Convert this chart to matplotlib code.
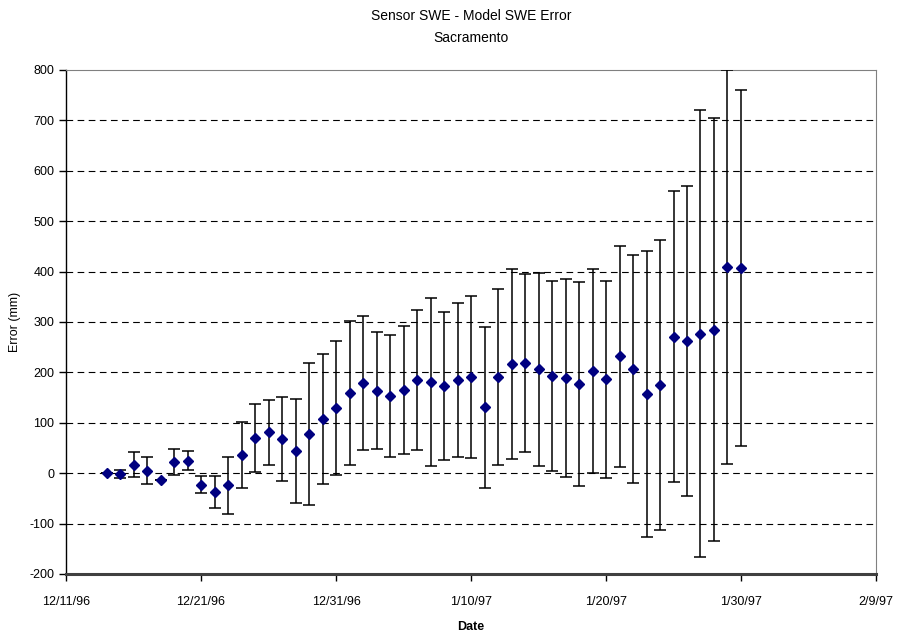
#import the libraries

import numpy as np
import pandas as pd
import matplotlib
matplotlib.use('Agg')
import matplotlib.pyplot as plt

plt.rcParams['font.family'] = ['Liberation Sans', 'DejaVu Sans']
plt.rcParams['axes.unicode_minus'] = False

# daily readings, 12/14/96 to 1/30/97
dates = pd.date_range('1996-12-14', '1997-01-30', freq='D')

swe_error = [0, -1, 17, 5, -13, 22, 25, -23, -38, -24, 36, 70, 81, 68, 44, 77,
             108, 129, 159, 178, 164, 154, 166, 185, 181, 173, 185, 191, 131, 191,
             217, 219, 206, 193, 189, 177, 203, 186, 232, 206, 157, 175, 271, 262,
             277, 285, 409, 407]

err_bar = [0, 8, 25, 27, 0, 25, 19, 17, 32, 57, 65, 68, 65, 84, 104, 141,
           129, 133, 142, 133, 116, 121, 127, 139, 167, 147, 153, 160, 160, 175,
           189, 177, 191, 189, 196, 202, 203, 195, 219, 226, 284, 288, 289, 308,
           443, 419, 390, 354]

x_start = pd.Timestamp('1996-12-11')
x_end = pd.Timestamp('1997-02-09')
y_ticks = np.arange(-200, 801, 100)

fig = plt.figure(figsize=(8.98, 6.35), dpi=100)
ax = fig.add_axes([0.0735, 0.0961, 0.902, 0.7937])

ax.errorbar(dates, swe_error, yerr=err_bar, fmt='none', ecolor='black',
            elinewidth=1.1, capsize=4, capthick=1.1, zorder=3)
ax.plot(dates, swe_error, linestyle='none', marker='D', markersize=5.5,
        color='#000080', zorder=4)

ax.set_ylim(-200, 800)
ax.set_yticks(y_ticks)
for v in y_ticks[1:-1]:
    ax.axhline(v, color='black', linewidth=0.8, linestyle=(0, (6, 4)), zorder=1)

ax.set_xlim(x_start, x_end)
ticks = pd.date_range(x_start, x_end, freq='10D')
ax.set_xticks(ticks)
ax.set_xticklabels([f"{d.month}/{d.day}/{d:%y}" for d in ticks])

ax.spines['top'].set_color('#808080')
ax.spines['right'].set_color('#808080')
ax.spines['left'].set_color('black')
ax.spines['bottom'].set_color('#404040')
ax.spines['bottom'].set_linewidth(2.2)
ax.spines['left'].set_linewidth(1.0)
ax.tick_params(axis='both', direction='out', length=5, width=1, labelsize=9,
               colors='black')
ax.tick_params(axis='x', pad=11)

ax.set_title('Sensor SWE - Model SWE Error\nSacramento', fontsize=10, pad=20,
             linespacing=1.7)
ax.set_xlabel('Date', fontsize=9, fontweight='bold', labelpad=9)
ax.set_ylabel('Error (mm)', fontsize=9, labelpad=6)

plt.savefig('out.png', dpi=100)
